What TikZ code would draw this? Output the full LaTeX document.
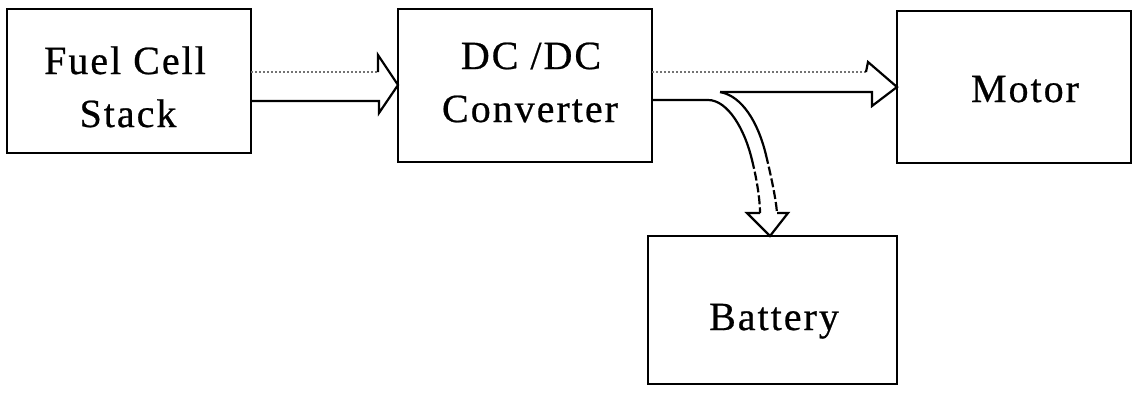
\documentclass[tikz,border=0pt]{standalone}
\usepackage{fontspec}
\setmainfont{Liberation Serif}[LetterSpace=5,FakeBold=0.6]
\usetikzlibrary{calc}
\begin{document}
\begin{tikzpicture}[x=1pt,y=-1pt,
 blk/.style={draw, line width=2.6pt, inner sep=0pt, outer sep=0pt},
 lbl/.style={anchor=base, inner sep=0pt, font=\fontsize{40}{48}\selectfont},
 shaft/.style={line width=2.2pt, line join=miter},
 dotl/.style={line width=1.2pt, black!55, dash pattern=on 2pt off 2pt},
 dsh/.style={line width=2.2pt, dash pattern=on 9pt off 3pt}]
\useasboundingbox (0,0) rectangle (1139,397);
\node[blk, minimum width=244pt, minimum height=144pt] (fc) at (129,81) {};
\node[blk, minimum width=254pt, minimum height=153pt] (dc) at (525,85.5) {};
\node[blk, minimum width=234pt, minimum height=152pt] (mot) at (1014,87) {};
\node[blk, minimum width=249pt, minimum height=148pt] (bat) at (772.5,310) {};
\node[lbl] (fc1) at (125,74) {Fuel Cell};
\node[lbl] (fc2) at (128,127) {Stack};
\node[lbl] (dc1) at (531,69) {DC /DC};
\node[lbl] (dc2) at (530,122) {Converter};
\node[lbl] (m1) at (1025,102) {Motor};
\node[lbl] (b1) at (774,330) {Battery};
% arrow fuel cell -> dc/dc
\draw[dotl] (fc.east |- 0,72) -- (378,72);
\draw[shaft] (fc.east |- 0,101) -- (379,101) -- (379,113) -- (dc.west |- 0,85) -- (378,55) -- (378,72);
% arrow dc/dc -> motor
\draw[dotl] (dc.east |- 0,72) -- (866,72);
\draw[shaft] (866,72) -- (868,62) -- (mot.west |- 0,87) -- (872,106) -- (872,92) -- (720,92);
% branch to battery
\draw[shaft] (720,92) .. controls (742,96) and (758,122) .. (766,155);
\draw[dsh] (766,155) .. controls (772,180) and (776,200) .. (777,213);
\draw[shaft] (dc.east |- 0,100) -- (708,100) .. controls (728,100) and (745,130) .. (752,160);
\draw[dsh] (752,160) .. controls (757,180) and (760,200) .. (760,213);
\draw[shaft] (760,213) -- (747,213) -- (770,0 |- bat.north) -- (788,213) -- (777,213);
\end{tikzpicture}
\end{document}
